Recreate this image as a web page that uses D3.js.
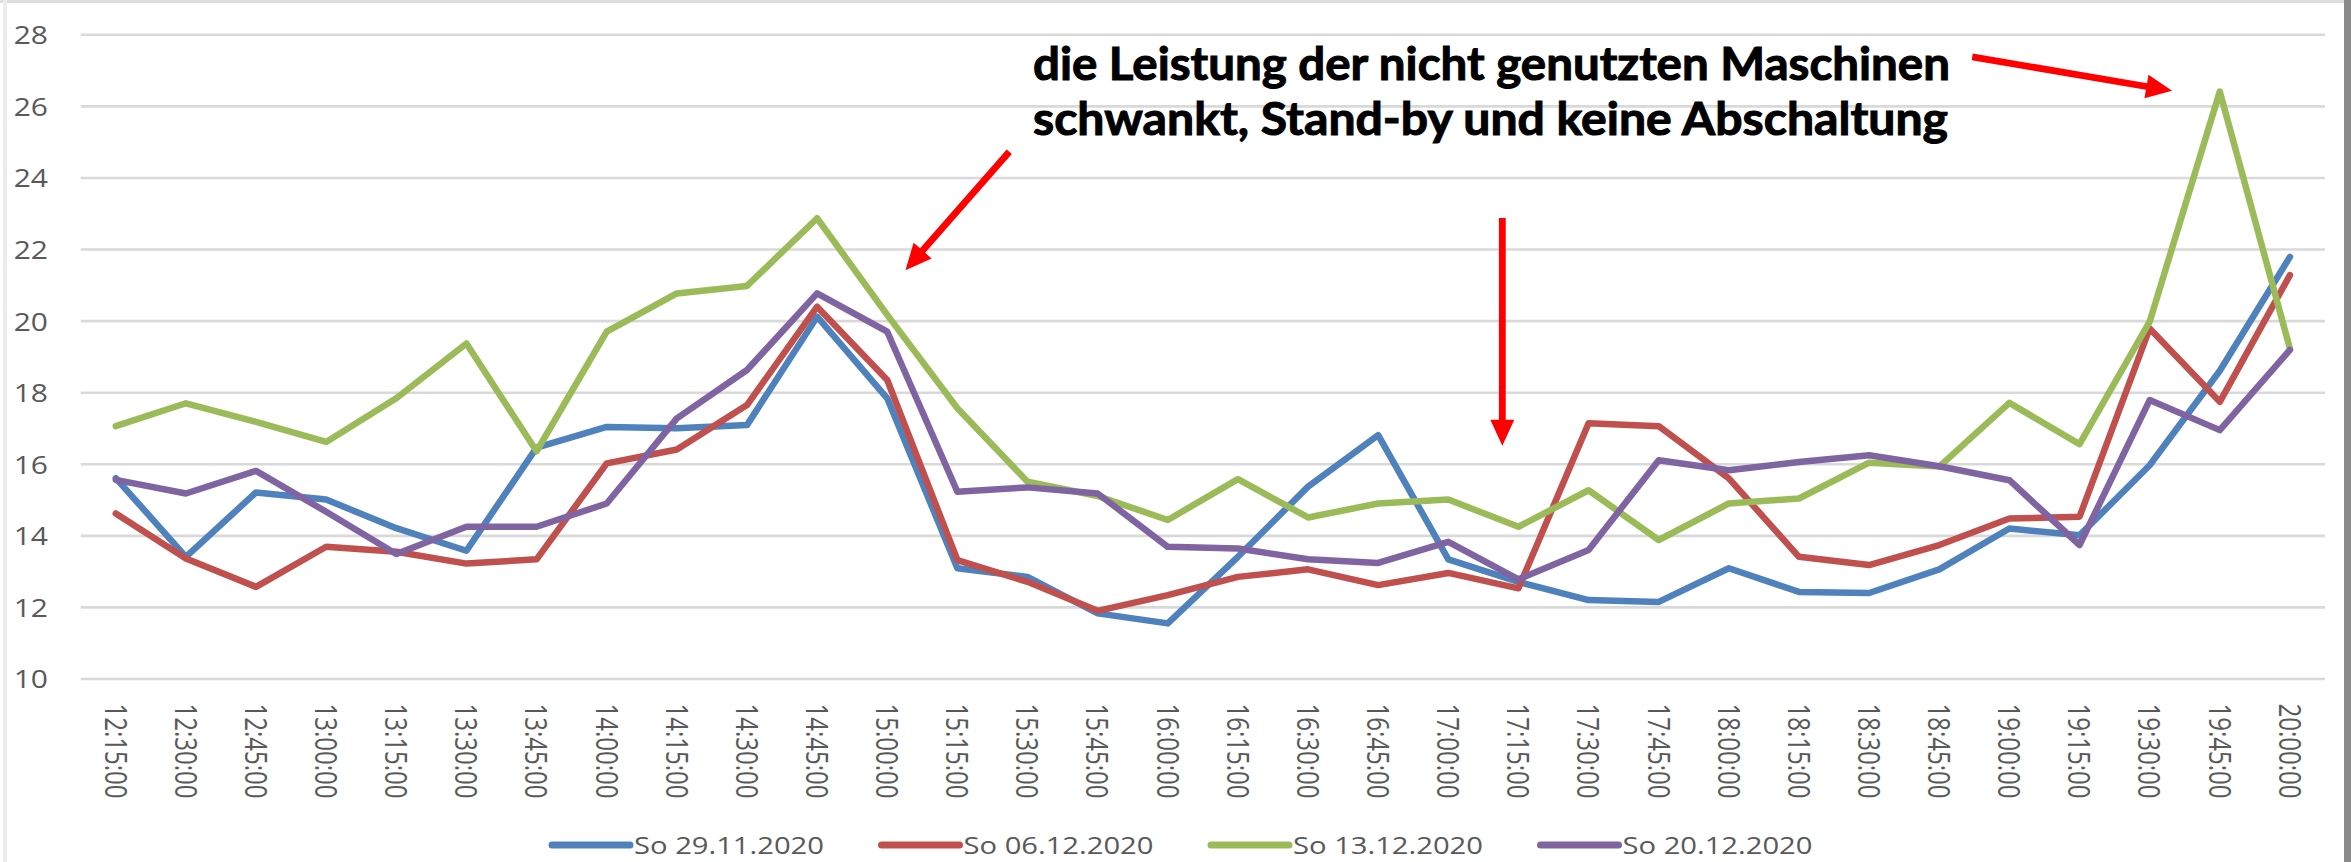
<!DOCTYPE html>
<html>
<head>
<meta charset="utf-8">
<script src="https://cdn.jsdelivr.net/npm/d3@7"></script>
<style>
  body { margin: 0; background: #ffffff; }
  svg { display: block; }
</style>
</head>
<body>
<div id="chart"></div>
<script>
// Category labels (15 minute slots)
const times = [
  '12:15:00', '12:30:00', '12:45:00', '13:00:00', '13:15:00', '13:30:00', '13:45:00', '14:00:00',
  '14:15:00', '14:30:00', '14:45:00', '15:00:00', '15:15:00', '15:30:00', '15:45:00', '16:00:00',
  '16:15:00', '16:30:00', '16:45:00', '17:00:00', '17:15:00', '17:30:00', '17:45:00', '18:00:00',
  '18:15:00', '18:30:00', '18:45:00', '19:00:00', '19:15:00', '19:30:00', '19:45:00', '20:00:00'
];

// Series values
const so29_11 = [15.6, 13.4, 15.2, 15.0, 14.2, 13.57, 16.45, 17.03, 16.99, 17.08, 20.11, 17.83, 13.08, 12.84, 11.82, 11.54,
  13.4, 15.36, 16.8, 13.33, 12.7, 12.19, 12.14, 13.08, 12.42, 12.39, 13.05, 14.19, 14.0, 15.96, 18.6, 21.78];
const so06_12 = [14.61, 13.35, 12.56, 13.68, 13.54, 13.21, 13.33, 16.01, 16.4, 17.64, 20.39, 18.34, 13.31, 12.7, 11.89, 12.33,
  12.84, 13.05, 12.61, 12.95, 12.52, 17.13, 17.05, 15.59, 13.4, 13.17, 13.73, 14.47, 14.52, 19.78, 17.73, 21.27];
const so13_12 = [17.05, 17.69, 17.17, 16.61, 17.83, 19.36, 16.35, 19.69, 20.76, 20.97, 22.86, 20.16, 17.55, 15.5, 15.1, 14.43,
  15.57, 14.5, 14.89, 15.0, 14.24, 15.26, 13.87, 14.89, 15.03, 16.03, 15.92, 17.7, 16.55, 19.97, 26.4, 19.22];
const so20_12 = [15.55, 15.17, 15.8, 14.66, 13.48, 14.24, 14.24, 14.89, 17.27, 18.62, 20.76, 19.69, 15.22, 15.34, 15.17, 13.68,
  13.63, 13.33, 13.23, 13.82, 12.77, 13.59, 16.1, 15.82, 16.05, 16.24, 15.93, 15.54, 13.73, 17.78, 16.94, 19.18];

const seriesNames = ['So 29.11.2020', 'So 06.12.2020', 'So 13.12.2020', 'So 20.12.2020'];
const yTicks = [10, 12, 14, 16, 18, 20, 22, 24, 26, 28];

const annotationLines = [
  'die Leistung der nicht genutzten Maschinen',
  'schwankt, Stand-by und keine Abschaltung'
];

// Arrows in data space: [category index, value]
const arrows = [
  { from: [12.74, 24.72], to: [11.26, 21.41] },
  { from: [19.77, 22.87], to: [19.77, 16.5] },
  { from: [26.47, 27.37], to: [29.32, 26.42] }
];

// Canvas and plot area
const WIDTH = 2351;
const HEIGHT = 862;
const PLOT = { LEFT: 80.7, RIGHT: 2325, TOP: 34.3, BOTTOM: 678.5 };
const COLORS = ['#4F81BD', '#C0504D', '#9BBB59', '#8064A2'];
const TEXT_GREY = '#595959';
const FONT = "'Open Sans', 'Liberation Sans', sans-serif";
const SX = 1.27; // the reference is stretched horizontally

const series = seriesNames.map((name, i) => ({
  name: name,
  values: [so29_11, so06_12, so13_12, so20_12][i]
}));

const svg = d3
  .select('#chart')
  .append('svg')
  .attr('width', WIDTH)
  .attr('height', HEIGHT);

svg.append('rect').attr('width', WIDTH).attr('height', HEIGHT).attr('fill', '#ffffff');

// Frame bits of the screenshot
svg.append('rect').attr('x', 0).attr('y', 0).attr('width', WIDTH).attr('height', 3).attr('fill', '#dedede');
svg.append('rect').attr('x', 3).attr('y', 0).attr('width', 4).attr('height', HEIGHT).attr('fill', '#ececec');
svg.append('rect').attr('x', 2344).attr('y', 0).attr('width', 7).attr('height', HEIGHT).attr('fill', '#8a8a8a');

// Scales
const x = d3
  .scalePoint()
  .domain(times)
  .range([PLOT.LEFT, PLOT.RIGHT])
  .padding(0.5);

const y = d3
  .scaleLinear()
  .domain([10, 28])
  .range([PLOT.BOTTOM, PLOT.TOP]);

// fractional category index -> pixel, for annotations
const xIdx = d3
  .scaleLinear()
  .domain([0, times.length - 1])
  .range([x(times[0]), x(times[times.length - 1])]);

// Horizontal gridlines
const gridGroup = svg
  .append('g')
  .attr('transform', `translate(${PLOT.LEFT}, 0)`)
  .call(
    d3.axisLeft(y)
      .tickValues(yTicks)
      .tickSize(-(PLOT.RIGHT - PLOT.LEFT))
      .tickFormat('')
  );
gridGroup.select('.domain').remove();
gridGroup.selectAll('line').attr('stroke', '#d9d9d9').attr('stroke-width', 2.6);

// Y labels
svg
  .append('g')
  .selectAll('text')
  .data(yTicks)
  .enter()
  .append('text')
  .attr('transform', d => `translate(48, ${y(d)}) scale(1.2, 1)`)
  .attr('text-anchor', 'end')
  .attr('dominant-baseline', 'central')
  .attr('font-family', FONT)
  .attr('font-size', 25)
  .attr('fill', TEXT_GREY)
  .text(d => d);

// X axis labels, rotated to read downwards
const xAxisGroup = svg
  .append('g')
  .attr('transform', `translate(0, ${PLOT.BOTTOM})`)
  .call(d3.axisBottom(x).tickSize(0));
xAxisGroup.select('.domain').remove();
xAxisGroup
  .selectAll('text')
  .attr('x', null)
  .attr('y', null)
  .attr('dy', null)
  .attr('text-anchor', 'start')
  .attr('dominant-baseline', 'central')
  .attr('transform', `translate(0, 25) scale(${SX}, 1) rotate(90)`)
  .attr('font-family', FONT)
  .attr('font-size', 24)
  .attr('fill', TEXT_GREY);

// Lines
const line = d3
  .line()
  .x((d, i) => x(times[i]))
  .y(d => y(d));

svg
  .append('g')
  .selectAll('path')
  .data(series)
  .enter()
  .append('path')
  .attr('d', d => line(d.values))
  .attr('fill', 'none')
  .attr('stroke', (d, i) => COLORS[i])
  .attr('stroke-width', 6.5)
  .attr('stroke-linejoin', 'round')
  .attr('stroke-linecap', 'round');

// Legend
const legend = svg
  .append('g')
  .selectAll('g')
  .data(series)
  .enter()
  .append('g')
  .attr('transform', (d, i) => `translate(${552 + i * 329.5}, 845)`);

legend
  .append('line')
  .attr('x1', 0)
  .attr('x2', 78)
  .attr('stroke', (d, i) => COLORS[i])
  .attr('stroke-width', 7)
  .attr('stroke-linecap', 'round');

legend
  .append('text')
  .attr('transform', `translate(82, 0) scale(${SX}, 1)`)
  .attr('dominant-baseline', 'central')
  .attr('font-family', FONT)
  .attr('font-size', 23)
  .attr('fill', TEXT_GREY)
  .text(d => d.name);

// Annotation text (heavier than Lato bold in the original, so add a thin outline)
svg
  .append('g')
  .selectAll('text')
  .data(annotationLines)
  .enter()
  .append('text')
  .attr('x', 1033)
  .attr('y', (d, i) => 80 + i * 55)
  .attr('font-family', "Lato, 'Noto Sans', sans-serif")
  .attr('font-weight', 'bold')
  .attr('font-size', 45)
  .attr('fill', '#000000')
  .attr('stroke', '#000000')
  .attr('stroke-width', 1)
  .attr('textLength', (d, i) => (i === 0 ? 917 : 915))
  .attr('lengthAdjust', 'spacingAndGlyphs')
  .text(d => d);

// Red arrows
function arrowPath(a) {
  const p0 = [xIdx(a.from[0]), y(a.from[1])];
  const p1 = [xIdx(a.to[0]), y(a.to[1])];
  const len = Math.hypot(p1[0] - p0[0], p1[1] - p0[1]);
  const u = [(p1[0] - p0[0]) / len, (p1[1] - p0[1]) / len];
  const n = [-u[1], u[0]];
  const w = 3.4, headLen = 26, headW = 12;
  const b = [p1[0] - u[0] * headLen, p1[1] - u[1] * headLen];
  const pts = [
    [p0[0] + n[0] * w, p0[1] + n[1] * w],
    [b[0] + n[0] * w, b[1] + n[1] * w],
    [b[0] + n[0] * headW, b[1] + n[1] * headW],
    p1,
    [b[0] - n[0] * headW, b[1] - n[1] * headW],
    [b[0] - n[0] * w, b[1] - n[1] * w],
    [p0[0] - n[0] * w, p0[1] - n[1] * w]
  ];
  return d3.line()(pts) + 'Z';
}

svg
  .append('g')
  .selectAll('path')
  .data(arrows)
  .enter()
  .append('path')
  .attr('d', arrowPath)
  .attr('fill', '#ff0000');
</script>
</body>
</html>
